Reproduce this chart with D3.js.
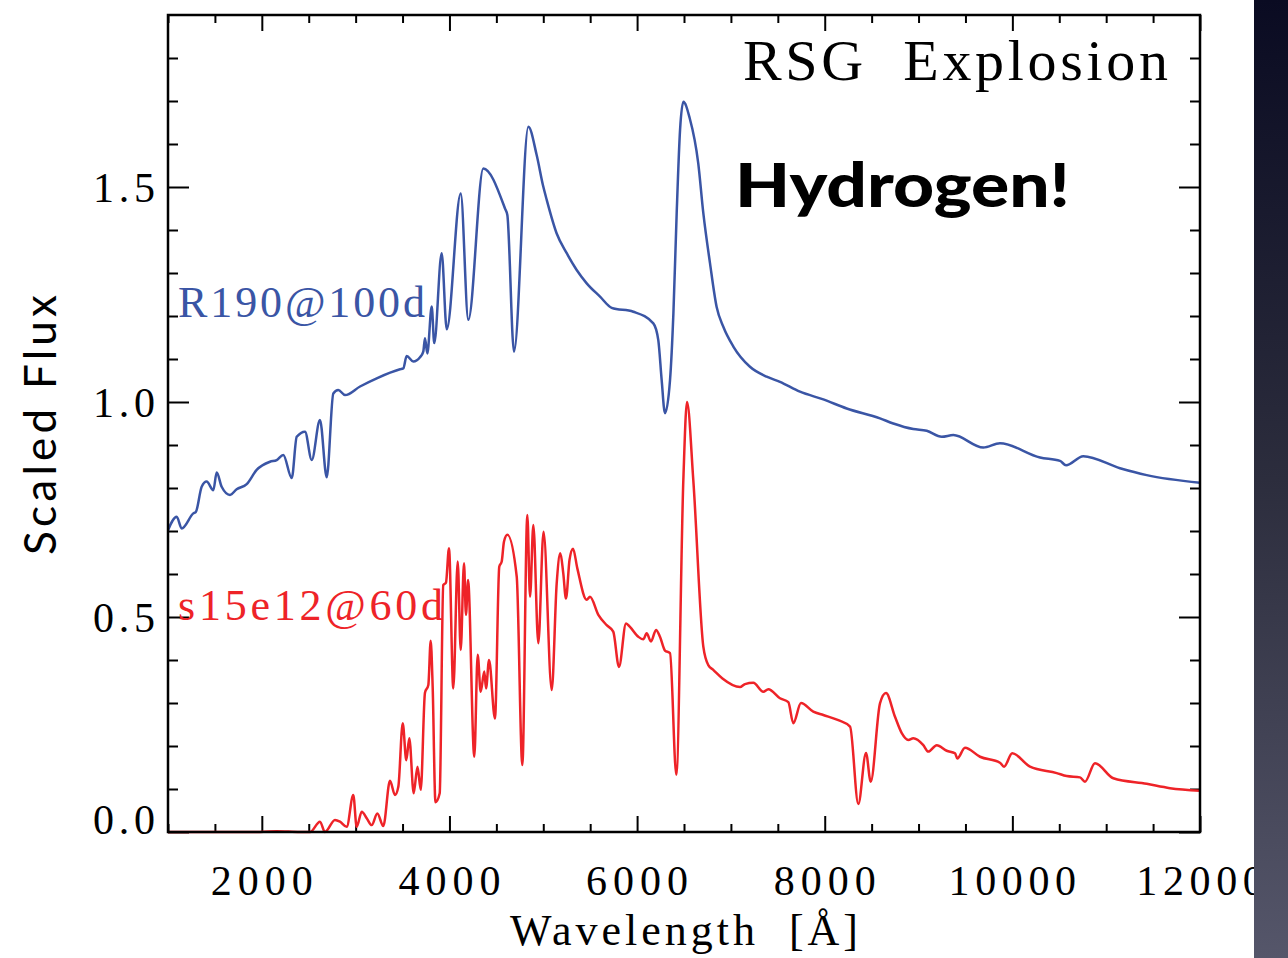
<!DOCTYPE html>
<html lang="en">
<head>
<meta charset="UTF-8">
<script src="https://d3js.org/d3.v7.min.js"></script>
<title>RSG Explosion</title>
<style>
  body { margin: 0; background: #fff; }
</style>
</head>
<body>
<div id="chart"></div>
<script>

// R190@100d spectrum: wavelength [A] and scaled flux
var r190Wave = [1000, 1093, 1146, 1270, 1298, 1359, 1412, 1483, 1519, 1572, 1661, 1732, 1839, 1945,
  2087, 2159, 2229, 2319, 2372, 2460, 2532, 2620, 2692, 2762, 2815, 2887, 3047, 3225, 3473, 3508,
  3544, 3615, 3686, 3721, 3739, 3764, 3811, 3838, 3917, 3971, 4120, 4201, 4361, 4592, 4617, 4688,
  4841, 4929, 5000, 5037, 5143, 5250, 5356, 5463, 5605, 5729, 5960, 6173, 6226, 6262, 6297, 6351,
  6387, 6422, 6458, 6493, 6561, 6652, 6706, 6777, 6848, 6919, 7026, 7203, 7381, 7523,
  7736, 7985, 8234, 8589, 8731, 8944, 9087, 9247, 9371, 9690, 9868, 10295, 10508, 10572, 10756,
  11147, 11432, 12000];
var r190Flux = [0.702, 0.733, 0.706, 0.741, 0.745, 0.803, 0.815, 0.795, 0.836, 0.803, 0.784, 0.797, 0.809, 0.842,
  0.861, 0.865, 0.877, 0.823, 0.919, 0.931, 0.865, 0.958, 0.825, 1.020, 1.028, 1.016, 1.036, 1.055, 1.076, 1.078,
  1.107, 1.094, 1.104, 1.117, 1.148, 1.113, 1.222, 1.137, 1.346, 1.169, 1.485, 1.191, 1.543, 1.450, 1.435, 1.117,
  1.640, 1.575, 1.501, 1.470, 1.392, 1.346, 1.307, 1.276, 1.245, 1.219, 1.210, 1.183, 1.144, 1.051, 0.974, 1.051,
  1.206, 1.439, 1.633, 1.698, 1.660, 1.555, 1.439, 1.323, 1.221, 1.175, 1.129, 1.082, 1.059, 1.047,
  1.024, 1.006, 0.985, 0.962, 0.950, 0.937, 0.933, 0.919, 0.923, 0.894, 0.904, 0.871, 0.863, 0.853, 0.874,
  0.846, 0.830, 0.812];

// s15e12@60d spectrum
var s15Wave = [1000, 1981, 2159, 2407, 2514, 2620, 2673, 2780, 2833, 2905, 2975, 3011, 3065, 3118, 3171,
  3231, 3295, 3366, 3420, 3455, 3502, 3540, 3572, 3619, 3659, 3694, 3739, 3775, 3800, 3821, 3851,
  3896, 3934, 3963, 3995, 4041, 4088, 4120, 4155, 4176, 4198, 4265, 4301, 4333, 4371, 4390, 4422,
  4485, 4531, 4557, 4581, 4617, 4717, 4777, 4830, 4859, 4894, 4947, 5003, 5090, 5143, 5182, 5213,
  5242, 5280, 5317, 5363, 5463, 5498, 5587, 5676, 5746, 5807, 5882, 5924, 6013, 6066, 6102, 6148,
  6202, 6244, 6297, 6351, 6418, 6493, 6532, 6599, 6706, 6759, 6812, 6910, 7097, 7150, 7239, 7345,
  7399, 7523, 7612, 7665, 7747, 7878, 7985, 8145, 8270, 8358, 8440, 8490, 8589, 8653, 8749, 8821,
  8891, 8944, 9051, 9104, 9194, 9300, 9389, 9413, 9495, 9655, 9868, 9911, 9999, 10188, 10473,
  10579, 10721, 10774, 10881, 11076, 11432, 11680, 12000];
var s15Flux = [0.0, 0.0, 0.002, 0.0, 0.0, 0.024, 0.0, 0.028, 0.024, 0.012, 0.086, 0.012, 0.047, 0.032, 0.016,
  0.043, 0.014, 0.119, 0.086, 0.105, 0.253, 0.167, 0.218, 0.090, 0.152, 0.098, 0.324, 0.342, 0.445, 0.338, 0.069,
  0.090, 0.574, 0.580, 0.660, 0.334, 0.629, 0.423, 0.625, 0.505, 0.586, 0.175, 0.412, 0.326, 0.373, 0.334, 0.400,
  0.264, 0.617, 0.629, 0.675, 0.691, 0.594, 0.156, 0.737, 0.547, 0.714, 0.439, 0.698, 0.330, 0.578, 0.648, 0.602,
  0.543, 0.633, 0.659, 0.613, 0.540, 0.547, 0.505, 0.481, 0.466, 0.384, 0.485, 0.477, 0.454, 0.448, 0.462, 0.443,
  0.470, 0.454, 0.422, 0.416, 0.133, 0.819, 1.000, 0.819, 0.431, 0.388, 0.377, 0.357, 0.337, 0.344, 0.347, 0.326,
  0.332, 0.311, 0.302, 0.253, 0.300, 0.280, 0.272, 0.260, 0.245, 0.065, 0.184, 0.117, 0.299, 0.323, 0.268, 0.230,
  0.214, 0.218, 0.202, 0.187, 0.202, 0.189, 0.183, 0.171, 0.196, 0.175, 0.161, 0.152, 0.183, 0.152, 0.137,
  0.130, 0.127, 0.117, 0.160, 0.125, 0.112, 0.102, 0.096];

var xMajor = [2000, 4000, 6000, 8000, 10000, 12000];
var yMajor = [0.0, 0.5, 1.0, 1.5];
var xMinor = d3.range(1000, 12001, 500).filter(function(d) { return xMajor.indexOf(d) < 0; });
var yMinor = d3.range(0, 19).map(function(d) { return d / 10; }).filter(function(d) { return d % 0.5 > 0.01 && d % 0.5 < 0.49; });

var margin = {top: 15, right: 88, bottom: 126, left: 168},
    width = 1288 - margin.left - margin.right,
    height = 958 - margin.top - margin.bottom;

var svg = d3.select("#chart")
  .append("svg")
    .attr("width", 1288)
    .attr("height", 958);

var g = svg.append("g")
    .attr("transform", "translate(" + margin.left + "," + margin.top + ")");

var x = d3.scaleLinear().domain([1000, 12000]).range([0, width]);
var y = d3.scaleLinear().domain([0, 1.9]).range([height, 0]);

// ticks on all four sides, pointing inward
function ticks(sel) {
  sel.select(".domain").remove();
  sel.selectAll("line").attr("stroke", "#000").attr("stroke-width", 2);
  sel.selectAll("text").remove();
}
g.append("g").attr("transform", "translate(0," + height + ")")
  .call(d3.axisBottom(x).tickValues(xMinor).tickSize(-8)).call(ticks);
g.append("g").attr("transform", "translate(0," + height + ")")
  .call(d3.axisBottom(x).tickValues(xMajor).tickSize(-16)).call(ticks);
g.append("g").call(d3.axisTop(x).tickValues(xMinor).tickSize(-8)).call(ticks);
g.append("g").call(d3.axisTop(x).tickValues(xMajor).tickSize(-16)).call(ticks);
g.append("g").call(d3.axisLeft(y).tickValues(yMinor).tickSize(-10)).call(ticks);
g.append("g").call(d3.axisLeft(y).tickValues(yMajor).tickSize(-21)).call(ticks);
g.append("g").attr("transform", "translate(" + width + ",0)")
  .call(d3.axisRight(y).tickValues(yMinor).tickSize(-10)).call(ticks);
g.append("g").attr("transform", "translate(" + width + ",0)")
  .call(d3.axisRight(y).tickValues(yMajor).tickSize(-21)).call(ticks);

// spectra
var line = d3.line()
  .x(function(d) { return x(d[0]); })
  .y(function(d) { return y(d[1]); })
  .curve(d3.curveMonotoneX);

g.append("path")
  .datum(d3.zip(r190Wave, r190Flux))
  .attr("d", line)
  .attr("fill", "none")
  .attr("stroke", "#3a55a5")
  .attr("stroke-width", 2.5);

g.append("path")
  .datum(d3.zip(s15Wave, s15Flux))
  .attr("d", line)
  .attr("fill", "none")
  .attr("stroke", "#ee2328")
  .attr("stroke-width", 2.5);

// frame
g.append("rect")
  .attr("width", width).attr("height", height)
  .attr("fill", "none").attr("stroke", "#000").attr("stroke-width", 2.5);

var serif = "'Liberation Serif', 'DejaVu Serif', serif";

// tick labels
g.selectAll(".xlab").data(xMajor).enter().append("text")
  .attr("x", function(d) { return x(d); })
  .attr("y", height + 63)
  .attr("text-anchor", "middle")
  .attr("font-family", serif).attr("font-size", 42)
  .attr("textLength", function(d) { return String(d).length * 25.5; })
  .text(function(d) { return d; });

g.selectAll(".ylab").data(yMajor).enter().append("text")
  .attr("x", -13)
  .attr("y", function(d) { return y(d) + (d === 0 ? 2 : 15); })
  .attr("text-anchor", "end")
  .attr("font-family", serif).attr("font-size", 42)
  .attr("textLength", 62)
  .text(d3.format(".1f"));

// axis titles
svg.append("text")
  .attr("x", 684).attr("y", 945)
  .attr("text-anchor", "middle")
  .attr("font-family", serif).attr("font-size", 44)
  .attr("textLength", 348)
  .text("Wavelength\u00A0\u00A0[Å]");

svg.append("text")
  .attr("transform", "translate(56,425) rotate(-90)")
  .attr("text-anchor", "middle")
  .attr("font-family", "Lato, 'Open Sans', sans-serif").attr("font-size", 44)
  .attr("textLength", 260)
  .text("Scaled Flux");

// annotations
svg.append("text")
  .attr("x", 743).attr("y", 80)
  .attr("font-family", serif).attr("font-size", 58)
  .attr("textLength", 425)
  .text("RSG\u00A0\u00A0Explosion");

svg.append("text")
  .attr("x", 735).attr("y", 207)
  .attr("font-family", "Lato, 'Open Sans', sans-serif").attr("font-size", 60)
  .attr("font-weight", 900)
  .attr("textLength", 335).attr("lengthAdjust", "spacingAndGlyphs")
  .text("Hydrogen!");

svg.append("text")
  .attr("x", 178).attr("y", 317)
  .attr("font-family", serif).attr("font-size", 44)
  .attr("fill", "#3a55a5")
  .attr("textLength", 247)
  .text("R190@100d");

svg.append("text")
  .attr("x", 178).attr("y", 620)
  .attr("font-family", serif).attr("font-size", 44)
  .attr("fill", "#ee2328")
  .attr("textLength", 265)
  .text("s15e12@60d");

// dark slide edge on the right
var grad = svg.append("defs").append("linearGradient")
  .attr("id", "edge").attr("x1", 0).attr("y1", 0).attr("x2", 0).attr("y2", 1);
grad.append("stop").attr("offset", "0%").attr("stop-color", "#0a0b22");
grad.append("stop").attr("offset", "50%").attr("stop-color", "#2c2d3d");
grad.append("stop").attr("offset", "100%").attr("stop-color", "#55566a");

svg.append("rect")
  .attr("x", 1254).attr("y", 0)
  .attr("width", 34).attr("height", 958)
  .attr("fill", "url(#edge)");

</script>
</body>
</html>
